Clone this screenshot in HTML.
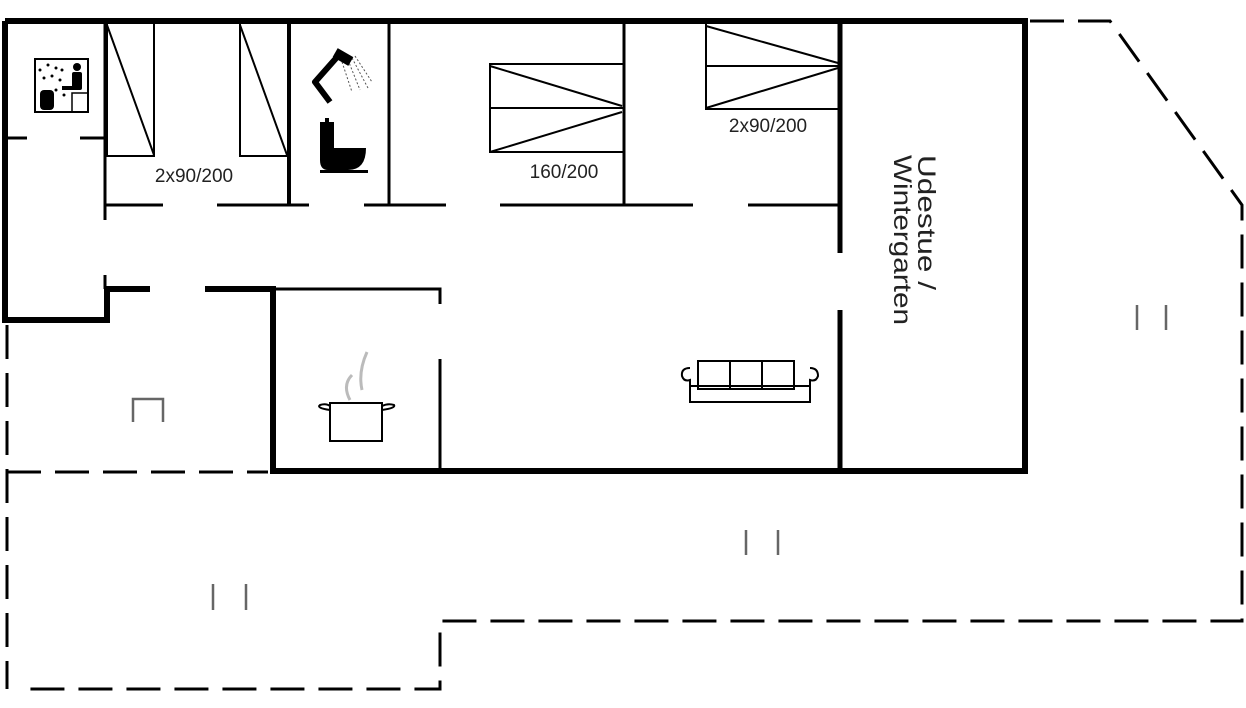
<!DOCTYPE html>
<html><head><meta charset="utf-8"><style>
html,body{margin:0;padding:0;background:#fff;width:1246px;height:708px;overflow:hidden}
svg{display:block}
text{font-family:"Liberation Sans",sans-serif;fill:#222}
</style></head><body>
<svg width="1246" height="708" viewBox="0 0 1246 708">
<g fill="none" stroke="#000" stroke-linecap="butt">
<!-- thick outer walls -->
<path d="M5 21 H1025 V471 H273 V289 H205 M150 289 H107 V320 H5 V21" stroke-width="6"/>
<path d="M840 21 V253 M840 310 V471" stroke-width="5"/>
<path d="M289 21 V205" stroke-width="4"/>
<!-- thin walls -->
<g stroke-width="3">
<path d="M105 21 V220 M105 275 V289"/>
<path d="M5 138 H27 M80 138 H105"/>
<path d="M105 205 H163 M217 205 H309 M364 205 H446 M500 205 H693 M748 205 H840"/>
<path d="M389 21 V205 M624 21 V205"/>
<path d="M273 289 H440 V304 M440 359 V471"/>
</g>
<!-- beds -->
<g stroke-width="2">
<path d="M107 21 V156 H154 V21 M107 25 L154 155"/>
<path d="M240 21 V156 H287 M240 25 L287 155"/>
<path d="M624 64 H490 V152 H624 M490 108 H624 M490 66 L622 106 M622 112 L490 152"/>
<path d="M706 21 V109 H838 M706 66 H838 M706 26 L838 63 M838 68 L706 108"/>
</g>
<!-- dashed outline -->
<g stroke-width="3" stroke-dasharray="34 14">
<path d="M1030 21 H1110 L1242 205 V621 H440 V689 H18"/>
<path d="M7 325 V689"/>
<path d="M7 472 H268"/>
</g>
<!-- small markers -->
<g stroke="#666" stroke-width="2.5">
<path d="M133 422 V399 H163 V422"/>
<path d="M213 584 V610 M246 584 V610"/>
<path d="M746 530 V555 M778 530 V555"/>
<path d="M1137 305 V330 M1166 305 V330"/>
</g>
<!-- sauna icon -->
<rect x="35" y="59" width="53" height="53" stroke-width="2"/>
<rect x="72" y="93" width="16" height="19" stroke-width="1.5"/>
<!-- pot -->
<rect x="330" y="403" width="52" height="38" stroke-width="2"/>
<path d="M330 410 Q316 408 320 405 Q326 403 330 406 M382 410 Q396 408 394 405 Q388 403 382 406" stroke-width="2"/>
<path d="M350 400 Q342 385 352 375 M362 390 Q358 372 367 352" stroke="#bbb" stroke-width="3"/>
<!-- sofa -->
<g stroke-width="2">
<rect x="698" y="361" width="96" height="28"/>
<path d="M730 361 V389 M762 361 V389 M698 386 H794"/>
<path d="M690 368 Q681 368 682 376 Q684 382 690 380 V402 H810 V380 Q816 382 818 376 Q818 368 810 368"/>
<path d="M690 380 V386 H698 M810 380 V386 H794"/>
</g>
<!-- shower -->
<path d="M338 56 L315 82 L330 102" stroke-width="6" stroke-linejoin="round"/>
<path d="M348 60 L360 90 M352 58 L368 88 M355 56 L372 82 M342 62 L352 92" stroke="#555" stroke-width="1" stroke-dasharray="2 2"/>
</g>
<g fill="#000">
<rect x="334" y="52" width="18" height="10" transform="rotate(30 343 57)"/>
<!-- toilet -->
<path d="M320 122 H334 V148 H366 Q366 170 348 170 H328 Q320 170 320 160 Z"/>
<rect x="320" y="170" width="48" height="3"/>
<rect x="325" y="118" width="4" height="5"/>
<!-- sauna figures -->
<rect x="40" y="90" width="14" height="20" rx="4"/>
<circle cx="77" cy="67" r="4"/>
<rect x="72" y="72" width="10" height="18" rx="2"/>
<rect x="62" y="86" width="12" height="4"/>
<circle cx="40" cy="70" r="1.5"/><circle cx="48" cy="65" r="1.5"/><circle cx="56" cy="68" r="1.5"/>
<circle cx="44" cy="78" r="1.5"/><circle cx="52" cy="76" r="1.5"/><circle cx="60" cy="80" r="1.5"/>
<circle cx="62" cy="70" r="1.5"/><circle cx="56" cy="90" r="1.5"/><circle cx="64" cy="95" r="1.5"/>
</g>
<text x="194" y="182" font-size="19" text-anchor="middle">2x90/200</text>
<text x="564" y="178" font-size="19" text-anchor="middle">160/200</text>
<text x="768" y="132" font-size="19" text-anchor="middle">2x90/200</text>
<g transform="translate(900,155) rotate(90)">
<text x="0" y="-18" font-size="25" textLength="135" lengthAdjust="spacingAndGlyphs">Udestue /</text>
<text x="0" y="6" font-size="25" textLength="170" lengthAdjust="spacingAndGlyphs">Wintergarten</text>
</g>
</svg>
</body></html>
